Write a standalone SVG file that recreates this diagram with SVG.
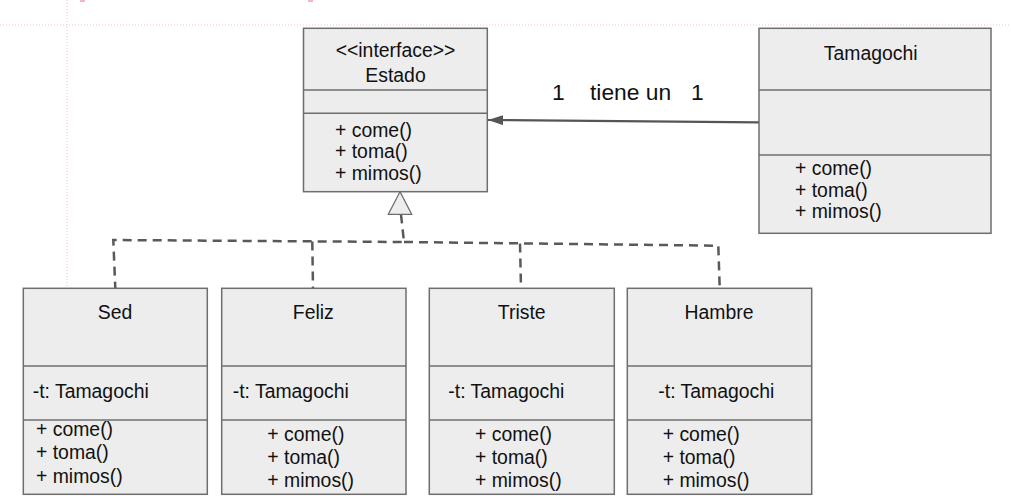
<svg xmlns="http://www.w3.org/2000/svg" width="1011" height="500" viewBox="0 0 1011 500">
<style>
.box{fill:#ededed;stroke:#6e6e6e;stroke-width:1.5}
.div{stroke:#6e6e6e;stroke-width:1.5}
text{font-family:"Liberation Sans",Arial,sans-serif;font-size:19.4px;fill:#111}
.c{text-anchor:middle}
.lbl{font-size:22.8px}
.dash{fill:none;stroke:#595959;stroke-width:2.5;stroke-dasharray:9 6}
.guide{fill:none;stroke:#f6c3cf;stroke-width:1;stroke-dasharray:1 2}
</style>
<defs>
<marker id="arr" viewBox="0 0 15 10" refX="15" refY="5" markerWidth="15" markerHeight="10" markerUnits="userSpaceOnUse" orient="auto">
<path d="M0,0 L15,5 L0,10 Z" fill="#555"/>
</marker>
</defs>
<g id="guides">
<line class="guide" x1="0" y1="25" x2="1011" y2="25"/>
<line class="guide" x1="67" y1="0" x2="67" y2="288"/>
<rect x="80" y="0" width="5" height="2" fill="#f6b3c4"/>
<rect x="308" y="0" width="5" height="2" fill="#f6b3c4"/>
</g>
<g id="connectors">
<line x1="759" y1="122.3" x2="488" y2="120" stroke="#555" stroke-width="2.2" marker-end="url(#arr)"/>
<text class="lbl" x="552" y="100">1</text>
<text class="lbl" x="590" y="100">tiene un</text>
<text class="lbl" x="691" y="100">1</text>
<polyline class="dash" points="401,214.5 404,242 113.3,240 115.3,288"/>
<polyline class="dash" points="312.3,241.5 313,288"/>
<polyline class="dash" points="404,242 718.3,245.7 719.7,288"/>
<polyline class="dash" points="520,243.5 521,288"/>
<path d="M400,191.7 L388.3,214.3 L411.7,214.3 Z" fill="#ededed" stroke="#6e6e6e" stroke-width="1.3"/>
</g>
<g id="estado">
<rect class="box" x="303.5" y="28.3" width="183.8" height="163.4"/>
<line class="div" x1="303.5" y1="90" x2="487.3" y2="90"/>
<line class="div" x1="303.5" y1="113.3" x2="487.3" y2="113.3"/>
<text class="c" x="395.5" y="56.7">&lt;&lt;interface&gt;&gt;</text>
<text class="c" x="395.5" y="81.7">Estado</text>
<text x="335" y="136.7">+ come()</text>
<text x="335" y="158.3">+ toma()</text>
<text x="335" y="180">+ mimos()</text>
</g>
<g id="tamagochi">
<rect class="box" x="759" y="28.3" width="232" height="205"/>
<line class="div" x1="759" y1="90" x2="991" y2="90"/>
<line class="div" x1="759" y1="155" x2="991" y2="155"/>
<text class="c" x="870.7" y="60">Tamagochi</text>
<text x="795" y="175">+ come()</text>
<text x="795" y="196.7">+ toma()</text>
<text x="795" y="218.3">+ mimos()</text>
</g>
<g id="sed">
<rect class="box" x="23.3" y="288.3" width="184" height="206"/>
<line class="div" x1="23.3" y1="366" x2="207.3" y2="366"/>
<line class="div" x1="23.3" y1="420" x2="207.3" y2="420"/>
<text class="c" x="115" y="319">Sed</text>
<text x="32.7" y="398.3">-t: Tamagochi</text>
<text x="36" y="436">+ come()</text>
<text x="36" y="459.3">+ toma()</text>
<text x="36" y="483.3">+ mimos()</text>
</g>
<g id="feliz">
<rect class="box" x="221.7" y="288.3" width="184.3" height="206"/>
<line class="div" x1="221.7" y1="366" x2="406" y2="366"/>
<line class="div" x1="221.7" y1="420" x2="406" y2="420"/>
<text class="c" x="313.3" y="319">Feliz</text>
<text x="232.7" y="398.3">-t: Tamagochi</text>
<text x="267.3" y="440.7">+ come()</text>
<text x="267.3" y="464.3">+ toma()</text>
<text x="267.3" y="486.7">+ mimos()</text>
</g>
<g id="triste">
<rect class="box" x="429.3" y="288.3" width="185" height="206"/>
<line class="div" x1="429.3" y1="366" x2="614.3" y2="366"/>
<line class="div" x1="429.3" y1="420" x2="614.3" y2="420"/>
<text class="c" x="521.7" y="319">Triste</text>
<text x="448.3" y="398.3">-t: Tamagochi</text>
<text x="475" y="440.7">+ come()</text>
<text x="475" y="464.3">+ toma()</text>
<text x="475" y="486.7">+ mimos()</text>
</g>
<g id="hambre">
<rect class="box" x="627.3" y="288.3" width="184.4" height="206"/>
<line class="div" x1="627.3" y1="366" x2="811.7" y2="366"/>
<line class="div" x1="627.3" y1="420" x2="811.7" y2="420"/>
<text class="c" x="719" y="319">Hambre</text>
<text x="658.3" y="398.3">-t: Tamagochi</text>
<text x="662.7" y="440.7">+ come()</text>
<text x="662.7" y="464.3">+ toma()</text>
<text x="662.7" y="486.7">+ mimos()</text>
</g>
</svg>
